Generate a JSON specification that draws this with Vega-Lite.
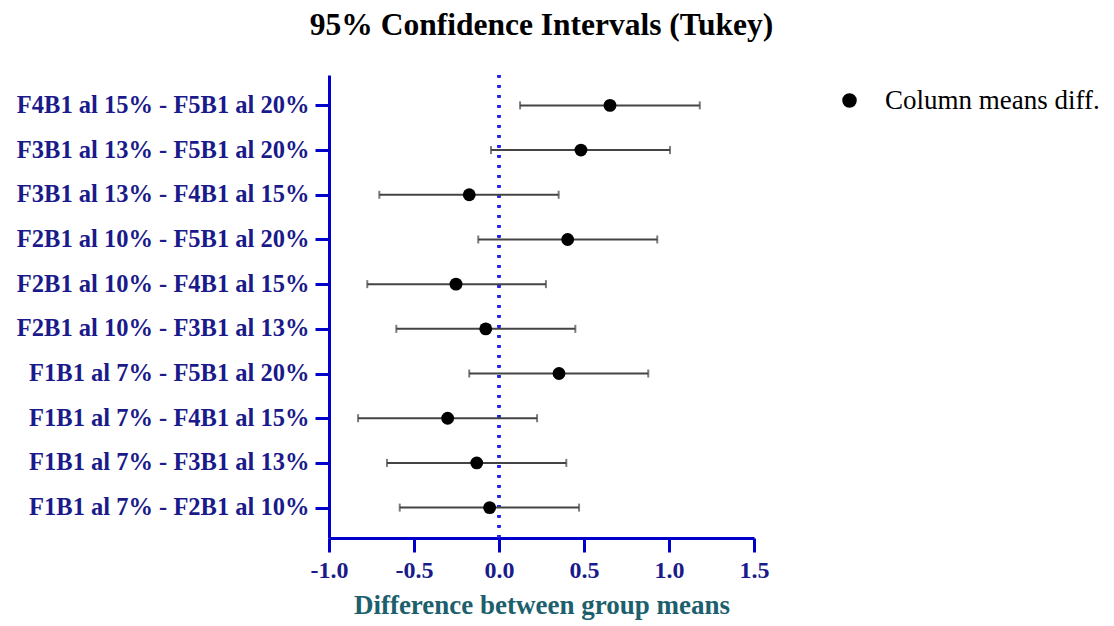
{
  "$schema": "https://vega.github.io/schema/vega-lite/v6.json",
  "autosize": {"type": "none"},
  "width": 425,
  "height": 463,
  "padding": {"left": 329, "top": 75, "right": 360, "bottom": 88},
  "background": "white",
  "title": {
    "text": "95% Confidence Intervals (Tukey)",
    "font": "Liberation Serif",
    "fontSize": 31.5,
    "fontWeight": "bold",
    "color": "#000000",
    "anchor": "middle",
    "offset": 32
  },
  "config": {
    "view": {"stroke": null},
    "axis": {"grid": false}
  },
  "data": {
    "values": [
      {"pair": "F4B1 al 15% - F5B1 al 20%", "diff": 0.653, "lower": 0.124, "upper": 1.181},
      {"pair": "F3B1 al 13% - F5B1 al 20%", "diff": 0.482, "lower": -0.047, "upper": 1.006},
      {"pair": "F3B1 al 13% - F4B1 al 15%", "diff": -0.175, "lower": -0.704, "upper": 0.351},
      {"pair": "F2B1 al 10% - F5B1 al 20%", "diff": 0.404, "lower": -0.122, "upper": 0.931},
      {"pair": "F2B1 al 10% - F4B1 al 15%", "diff": -0.253, "lower": -0.775, "upper": 0.276},
      {"pair": "F2B1 al 10% - F3B1 al 13%", "diff": -0.078, "lower": -0.604, "upper": 0.449},
      {"pair": "F1B1 al 7% - F5B1 al 20%", "diff": 0.353, "lower": -0.175, "upper": 0.878},
      {"pair": "F1B1 al 7% - F4B1 al 15%", "diff": -0.302, "lower": -0.829, "upper": 0.224},
      {"pair": "F1B1 al 7% - F3B1 al 13%", "diff": -0.131, "lower": -0.659, "upper": 0.396},
      {"pair": "F1B1 al 7% - F2B1 al 10%", "diff": -0.055, "lower": -0.584, "upper": 0.471}
    ]
  },
  "encoding": {
    "y": {
      "field": "pair",
      "type": "nominal",
      "sort": null,
      "scale": {"type": "point", "padding": 0.68},
      "axis": {
        "title": null,
        "domainColor": "#0000cc",
        "domainWidth": 3,
        "tickColor": "#0000cc",
        "tickWidth": 3,
        "tickSize": 14,
        "labelFont": "Liberation Serif",
        "labelFontSize": 24.5,
        "labelFontWeight": "bold",
        "labelColor": "#1a1a8a",
        "labelPadding": 6,
        "labelLimit": 400
      }
    }
  },
  "layer": [
    {
      "mark": {"type": "rule", "color": "#2424e6", "strokeWidth": 2.5, "strokeDash": [2.5, 7.5]},
      "encoding": {"x": {"datum": 0}, "y": null}
    },
    {
      "mark": {"type": "rule", "color": "#444444", "strokeWidth": 2},
      "encoding": {
        "x": {
          "field": "lower",
          "type": "quantitative",
          "scale": {"domain": [-1, 1.5], "nice": false, "zero": false},
          "axis": {
            "title": "Difference between group means",
            "values": [-1, -0.5, 0, 0.5, 1, 1.5],
            "labelExpr": "replace(format(datum.value, '.1f'), '\u2212', '-')",
            "domainColor": "#0000cc",
            "domainWidth": 3,
            "tickColor": "#0000cc",
            "tickWidth": 3,
            "tickSize": 14,
            "labelFont": "Liberation Serif",
            "labelFontSize": 24,
            "labelFontWeight": "bold",
            "labelColor": "#1a1a8a",
            "labelPadding": 6,
            "labelFlush": false,
            "titleFont": "Liberation Serif",
            "titleFontSize": 27,
            "titleFontWeight": "bold",
            "titleColor": "#1d5f6d",
            "titlePadding": 10
          }
        },
        "x2": {"field": "upper"}
      }
    },
    {
      "mark": {"type": "tick", "color": "#444444", "thickness": 2, "size": 8},
      "encoding": {"x": {"field": "lower", "type": "quantitative"}}
    },
    {
      "mark": {"type": "tick", "color": "#444444", "thickness": 2, "size": 8},
      "encoding": {"x": {"field": "upper", "type": "quantitative"}}
    },
    {
      "mark": {"type": "point", "filled": true, "shape": "circle", "size": 165, "opacity": 1},
      "encoding": {
        "x": {"field": "diff", "type": "quantitative"},
        "color": {
          "datum": "Column means diff.",
          "scale": {"range": ["#000000"]},
          "legend": {
            "title": null,
            "orient": "none",
            "legendX": 507,
            "legendY": 12,
            "symbolType": "circle",
            "symbolSize": 170,
            "symbolFillColor": "#000000",
            "symbolStrokeColor": "#000000",
            "symbolOpacity": 1,
            "labelFont": "Liberation Serif",
            "labelFontSize": 27,
            "labelColor": "#000000",
            "labelOffset": 22,
            "labelLimit": 300
          }
        }
      }
    }
  ]
}
